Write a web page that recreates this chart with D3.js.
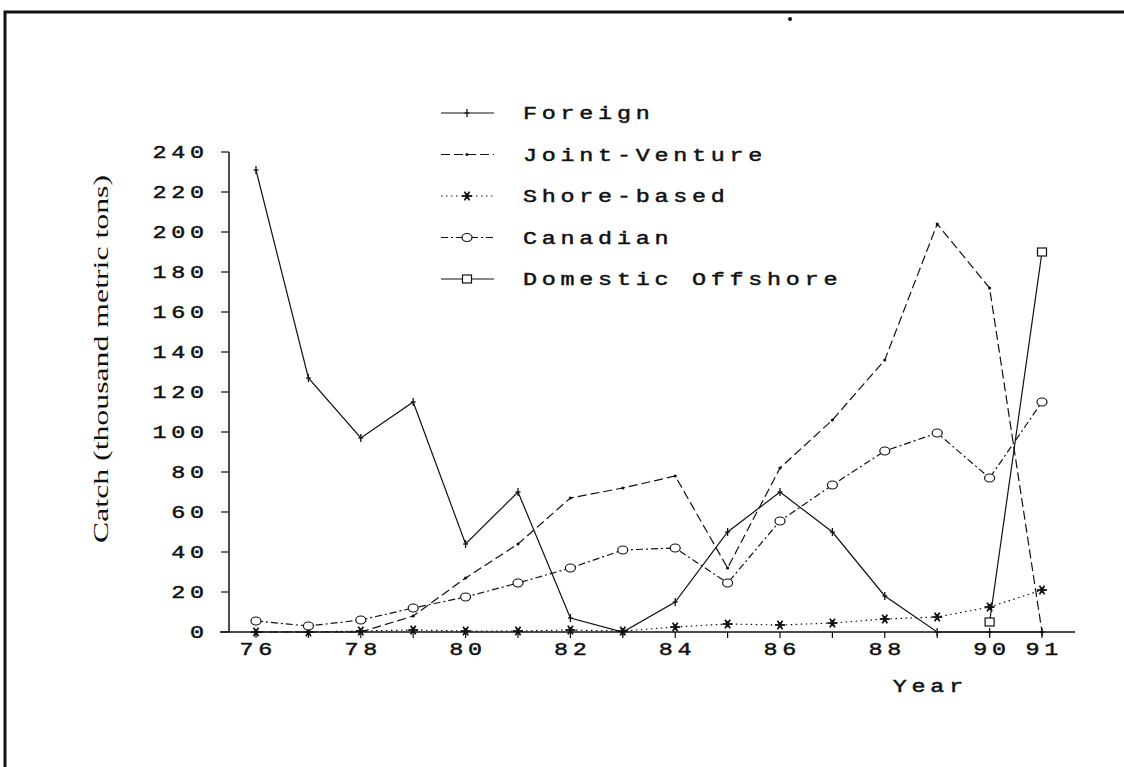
<!DOCTYPE html>
<html>
<head>
<meta charset="utf-8">
<script src="https://cdn.jsdelivr.net/npm/d3@7"></script>
<style>
  html, body { margin: 0; padding: 0; background: #fff; }
  svg { display: block; }
  .mono { font-family: "Courier New", "Liberation Mono", monospace; fill: #111; stroke: #111; stroke-width: 0.45; }
</style>
</head>
<body>
<svg id="chart" width="1124" height="767"></svg>
<script>
// Catch by fishery sector, 1976-1991 (thousand metric tons)
const years = [76, 77, 78, 79, 80, 81, 82, 83, 84, 85, 86, 87, 88, 89, 90, 91];
const foreign = [231, 127, 97, 115, 44, 70, 7, 0, 15, 50, 70, 50, 18, 0, 0, 0];
const jointVenture = [0, 0, 0, 8, 27, 44, 67, 72, 78, 32, 82, 106, 136, 204, 172, 0];
const shoreBased = [0, 0, 0.5, 1, 0.5, 0.5, 1, 0.5, 2.5, 4, 3.5, 4.5, 6.5, 7.5, 12.5, 21];
const canadian = [5.5, 3, 6, 12, 17.5, 24.5, 32, 41, 42, 24.5, 55.5, 73.5, 90.5, 99.5, 77, 115];
const offshoreYears = [90, 91];
const domesticOffshore = [5, 190];

const yTicks = [0, 20, 40, 60, 80, 100, 120, 140, 160, 180, 200, 220, 240];
const xTickLabels = [76, 78, 80, 82, 84, 86, 88, 90, 91];
const seriesNames = ["Foreign", "Joint-Venture", "Shore-based", "Canadian", "Domestic Offshore"];

const svg = d3.select("#chart");
const ink = "#111";

const x = d3.scaleLinear().domain([76, 91]).range([256, 1042]);
const y = d3.scaleLinear().domain([0, 240]).range([632, 152]);

// wide typewriter-style labels: stretched horizontally, with extra tracking
const SX = 1.3, LS = 3.65;
function monoText(parent, px, py, str, anchor) {
  const trail = LS * SX;
  const shift = anchor === "end" ? trail : anchor === "middle" ? trail / 2 : 0;
  return parent.append("text").attr("class", "mono")
    .attr("transform", `translate(${px + shift},${py}) scale(${SX},1)`)
    .attr("dy", "0.36em").attr("text-anchor", anchor || "start")
    .style("font-size", "18px").style("letter-spacing", LS + "px")
    .text(str);
}

// page frame
svg.append("path")
  .attr("d", "M5,767 L5,12 L1124,12")
  .attr("fill", "none").attr("stroke", ink).attr("stroke-width", 3);
svg.append("circle").attr("cx", 790).attr("cy", 19).attr("r", 2).attr("fill", ink);

// axes
svg.append("line").attr("x1", 220).attr("x2", 1075).attr("y1", y(0)).attr("y2", y(0))
  .attr("stroke", ink).attr("stroke-width", 1.5);
svg.append("line").attr("x1", 229).attr("x2", 229).attr("y1", y(240)).attr("y2", y(0))
  .attr("stroke", ink).attr("stroke-width", 1.5);

svg.selectAll(".ytick").data(yTicks).join("line")
  .attr("x1", 221).attr("x2", 229).attr("y1", d => y(d)).attr("y2", d => y(d))
  .attr("stroke", ink).attr("stroke-width", 1.2);
yTicks.forEach(d => monoText(svg, 204, y(d), d, "end"));

svg.selectAll(".xtick").data(years).join("line")
  .attr("x1", d => x(d)).attr("x2", d => x(d)).attr("y1", y(0)).attr("y2", y(0) + 6)
  .attr("stroke", ink).attr("stroke-width", 1.2);
xTickLabels.forEach(d => monoText(svg, x(d), 649, d, "middle"));

monoText(svg, 928, 686, "Year", "middle");

svg.append("text")
  .attr("transform", "translate(101,359) rotate(-90)")
  .attr("text-anchor", "middle").attr("dy", "0.35em")
  .attr("textLength", 368).attr("lengthAdjust", "spacingAndGlyphs")
  .style("font-family", "'Liberation Serif', 'Times New Roman', serif")
  .style("font-size", "21px").style("fill", ink)
  .text("Catch (thousand metric tons)");

// marker shapes
function drawMarker(g, kind, cx, cy) {
  if (kind === "plus") {
    g.append("line").attr("x1", cx).attr("x2", cx).attr("y1", cy - 4).attr("y2", cy + 4)
      .attr("stroke", ink).attr("stroke-width", 1.3);
    g.append("line").attr("x1", cx - 2.5).attr("x2", cx + 2.5).attr("y1", cy).attr("y2", cy)
      .attr("stroke", ink).attr("stroke-width", 1.3);
  } else if (kind === "dot") {
    g.append("circle").attr("cx", cx).attr("cy", cy).attr("r", 1.6).attr("fill", ink);
  } else if (kind === "star") {
    [0, 60, 120].forEach(a => {
      const r = a * Math.PI / 180, s = 5;
      g.append("line")
        .attr("x1", cx - s * Math.cos(r)).attr("x2", cx + s * Math.cos(r))
        .attr("y1", cy - s * Math.sin(r)).attr("y2", cy + s * Math.sin(r))
        .attr("stroke", ink).attr("stroke-width", 1.8);
    });
    g.append("line").attr("x1", cx).attr("x2", cx).attr("y1", cy - 3).attr("y2", cy + 3)
      .attr("stroke", ink).attr("stroke-width", 1.5);
  } else if (kind === "circle") {
    g.append("ellipse").attr("cx", cx).attr("cy", cy).attr("rx", 5).attr("ry", 4)
      .attr("fill", "#fff").attr("stroke", ink).attr("stroke-width", 1.2);
  } else if (kind === "square") {
    g.append("rect").attr("x", cx - 4.5).attr("y", cy - 4).attr("width", 9).attr("height", 8)
      .attr("fill", "#fff").attr("stroke", ink).attr("stroke-width", 1.2);
  }
}

const series = [
  { name: seriesNames[0], xs: years, vs: foreign, dash: null, marker: "plus" },
  { name: seriesNames[1], xs: years, vs: jointVenture, dash: "9,4", marker: "dot" },
  { name: seriesNames[2], xs: years, vs: shoreBased, dash: "1.5,3.5", marker: "star" },
  { name: seriesNames[3], xs: years, vs: canadian, dash: "7,3,2,3", marker: "circle" },
  { name: seriesNames[4], xs: offshoreYears, vs: domesticOffshore, dash: null, marker: "square" }
];

const line = d3.line().x(d => x(d[0])).y(d => y(d[1]));

series.forEach(s => {
  const pts = s.xs.map((yr, i) => [yr, s.vs[i]]);
  svg.append("path").datum(pts)
    .attr("d", line)
    .attr("fill", "none").attr("stroke", ink).attr("stroke-width", 1.2)
    .attr("stroke-dasharray", s.dash);
  const g = svg.append("g");
  pts.forEach(p => drawMarker(g, s.marker, x(p[0]), y(p[1])));
});

// legend
const legendY = d3.scalePoint().domain(seriesNames).range([113, 279]);
series.forEach(s => {
  const ly = legendY(s.name);
  svg.append("line").attr("x1", 441).attr("x2", 494).attr("y1", ly).attr("y2", ly)
    .attr("stroke", ink).attr("stroke-width", 1.2).attr("stroke-dasharray", s.dash);
  drawMarker(svg.append("g"), s.marker, 467, ly);
  monoText(svg, 523, ly, s.name, "start");
});
</script>
</body>
</html>
